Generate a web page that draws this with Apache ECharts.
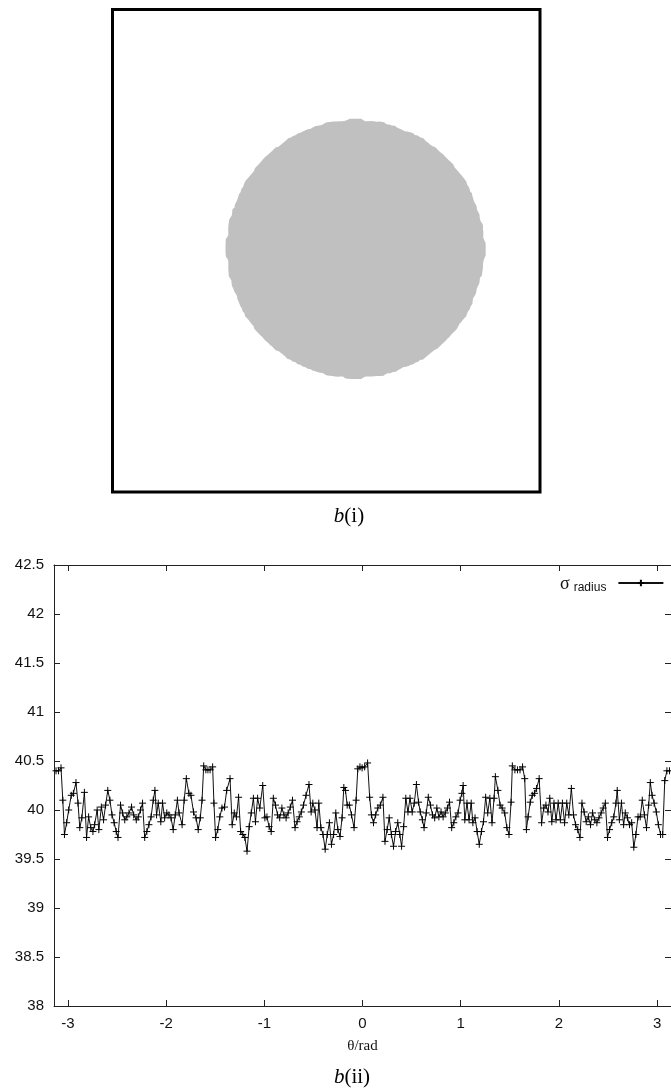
<!DOCTYPE html>
<html>
<head>
<meta charset="utf-8">
<script src="https://cdn.jsdelivr.net/npm/echarts@6/dist/echarts.min.js"></script>
<style>
  html, body { margin: 0; padding: 0; background: #fff; }
  #chart { width: 671px; height: 1089px; }
</style>
</head>
<body>
<div id="chart"></div>
<script>
// angle of each sample (rad)
const thetaRad = [
  -3.121, -3.096, -3.070, -3.052, -3.035, -3.013, -2.992, -2.966, -2.944, -2.918,
  -2.897, -2.879, -2.858, -2.832, -2.810, -2.789, -2.767, -2.745, -2.728, -2.702,
  -2.685, -2.659, -2.637, -2.616, -2.594, -2.572, -2.551, -2.529, -2.508, -2.490,
  -2.464, -2.443, -2.421, -2.400, -2.378, -2.352, -2.330, -2.304, -2.283, -2.261,
  -2.240, -2.218, -2.196, -2.175, -2.153, -2.131, -2.114, -2.097, -2.080, -2.054,
  -2.036, -2.015, -1.993, -1.971, -1.950, -1.928, -1.907, -1.885, -1.868, -1.837,
  -1.816, -1.794, -1.768, -1.747, -1.721, -1.695, -1.673, -1.652, -1.634, -1.617,
  -1.595, -1.574, -1.552, -1.526, -1.513, -1.496, -1.474, -1.453, -1.431, -1.405,
  -1.383, -1.349, -1.327, -1.306, -1.284, -1.262, -1.241, -1.219, -1.198, -1.176,
  -1.154, -1.133, -1.111, -1.090, -1.068, -1.046, -1.016, -0.994, -0.973, -0.951,
  -0.930, -0.908, -0.886, -0.865, -0.843, -0.821, -0.800, -0.778, -0.757, -0.735,
  -0.713, -0.687, -0.666, -0.644, -0.623, -0.601, -0.575, -0.545, -0.523, -0.506,
  -0.484, -0.463, -0.445, -0.424, -0.402, -0.380, -0.359, -0.337, -0.316, -0.294,
  -0.272, -0.251, -0.229, -0.208, -0.190, -0.173, -0.156, -0.134, -0.112, -0.086,
  -0.065, -0.048, -0.026, -0.004, 0.022, 0.052, 0.073, 0.091, 0.112, 0.134,
  0.156, 0.182, 0.208, 0.229, 0.251, 0.272, 0.294, 0.316, 0.337, 0.359,
  0.380, 0.398, 0.419, 0.441, 0.463, 0.484, 0.506, 0.527, 0.549, 0.571,
  0.588, 0.610, 0.627, 0.649, 0.670, 0.692, 0.713, 0.735, 0.757, 0.778,
  0.800, 0.821, 0.843, 0.865, 0.886, 0.908, 0.930, 0.951, 0.973, 0.994,
  1.012, 1.025, 1.042, 1.064, 1.085, 1.107, 1.124, 1.146, 1.167, 1.189,
  1.211, 1.232, 1.254, 1.275, 1.297, 1.319, 1.340, 1.353, 1.379, 1.401,
  1.422, 1.448, 1.470, 1.492, 1.513, 1.526, 1.552, 1.578, 1.604, 1.630,
  1.652, 1.669, 1.686, 1.708, 1.729, 1.751, 1.773, 1.799, 1.824, 1.846,
  1.868, 1.889, 1.907, 1.928, 1.950, 1.971, 1.993, 2.015, 2.036, 2.058,
  2.080, 2.101, 2.127, 2.149, 2.170, 2.192, 2.214, 2.235, 2.257, 2.278,
  2.300, 2.322, 2.343, 2.365, 2.387, 2.408, 2.430, 2.451, 2.473, 2.495,
  2.516, 2.538, 2.559, 2.581, 2.594, 2.616, 2.637, 2.659, 2.676, 2.698,
  2.719, 2.741, 2.763, 2.784, 2.806, 2.828, 2.849, 2.871, 2.892, 2.914,
  2.931, 2.949, 2.970, 2.992, 3.013, 3.035, 3.057, 3.078, 3.100, 3.126
]

// sigma_radius at each angle (pixels)
const sigmaRadius = [
  40.40, 40.40, 40.43, 40.10, 39.75, 39.87, 40.00, 40.15, 40.17, 40.28,
  40.07, 39.82, 39.92, 40.18, 39.72, 39.93, 39.82, 39.78, 39.85, 40.00,
  39.80, 40.03, 39.90, 40.05, 40.20, 40.10, 39.95, 39.87, 39.78, 39.72,
  40.05, 39.97, 39.90, 39.93, 39.97, 40.03, 39.95, 39.90, 39.93, 40.00,
  40.07, 39.72, 39.78, 39.85, 39.93, 40.10, 40.20, 39.95, 40.07, 39.88,
  40.07, 39.92, 39.97, 39.95, 39.92, 39.80, 39.95, 40.10, 39.97, 39.85,
  40.10, 40.32, 40.17, 40.15, 39.98, 39.92, 39.80, 39.92, 40.10, 40.45,
  40.41, 40.41, 40.41, 40.44, 40.07, 39.72, 39.80, 39.93, 40.02, 40.03,
  40.20, 40.32, 39.85, 39.97, 39.93, 40.13, 39.78, 39.75, 39.72, 39.58,
  39.83, 39.97, 40.12, 39.88, 40.12, 40.02, 40.25, 39.92, 39.93, 39.83,
  39.78, 40.12, 40.05, 39.95, 39.92, 40.02, 39.95, 39.92, 39.97, 40.03,
  40.10, 39.82, 39.88, 39.93, 39.98, 40.05, 40.15, 40.26, 39.98, 40.07,
  40.00, 39.82, 40.07, 39.82, 39.75, 39.60, 39.75, 39.87, 39.65, 39.75,
  39.97, 39.80, 39.73, 39.92, 40.23, 40.20, 40.05, 40.05, 39.95, 39.82,
  40.10, 40.42, 40.44, 40.43, 40.44, 40.48, 40.13, 39.95, 39.87, 39.95,
  40.02, 40.05, 40.13, 39.68, 39.80, 39.92, 39.75, 39.63, 39.78, 39.87,
  39.75, 39.63, 39.83, 40.12, 39.98, 40.12, 39.98, 40.07, 40.26, 40.08,
  39.98, 39.90, 39.82, 39.97, 40.13, 40.05, 39.95, 39.92, 40.02, 39.93,
  39.98, 39.93, 39.97, 40.02, 40.08, 39.82, 39.87, 39.93, 39.97, 40.10,
  40.17, 40.25, 39.90, 40.07, 39.90, 40.07, 39.87, 39.92, 39.78, 39.65,
  39.78, 39.88, 40.13, 39.97, 40.12, 39.87, 40.12, 40.34, 40.20, 40.05,
  40.02, 39.97, 39.82, 39.75, 40.08, 40.45, 40.41, 40.41, 40.41, 40.44,
  40.32, 39.80, 39.93, 40.08, 40.15, 40.17, 40.22, 40.32, 39.87, 40.02,
  40.05, 39.98, 40.12, 39.88, 40.07, 39.90, 40.07, 39.90, 40.07, 39.87,
  40.07, 39.95, 40.22, 39.95, 39.85, 39.80, 39.72, 40.07, 39.98, 39.88,
  39.93, 39.85, 39.97, 39.90, 39.87, 39.92, 39.97, 40.02, 40.07, 39.72,
  39.80, 39.87, 39.93, 40.07, 40.20, 39.90, 40.07, 39.85, 39.97, 39.92,
  39.85, 39.87, 39.62, 39.75, 39.93, 39.93, 40.10, 39.95, 39.82, 40.05,
  40.28, 40.15, 40.07, 39.98, 39.85, 39.75, 39.75, 40.30, 40.40, 40.40
]

// the image in b(i): size in pixels and where the disc centre sits
const imageSize = [132.8, 149.8]
const discCentre = [75.5, 74.3]

const yRange = [38, 42.5]
const yStep = 0.5

const seriesName = 'σ radius'
const ink = '#111'
const axisFont = 'Liberation Sans, Arial, sans-serif'
const serifFont = 'Liberation Serif, Times New Roman, serif'

const chart = echarts.init(document.getElementById('chart'))

const sideAxis = {
  gridIndex: 1,
  axisLine: { onZero: false, lineStyle: { color: '#222', width: 1 } },
  axisTick: { inside: true, length: 6, lineStyle: { color: '#222', width: 1 } },
  splitLine: { show: false },
}

chart.setOption({
  animation: false,
  backgroundColor: '#fff',
  grid: [
    {
      left: 112.5,
      top: 9.5,
      width: 427.5,
      height: 482.5,
      show: true,
      borderColor: '#000',
      borderWidth: 3,
      backgroundColor: 'transparent',
    },
    {
      left: 54,
      top: 565,
      width: 622,
      height: 441,
    },
  ],
  xAxis: [
    { gridIndex: 0, type: 'value', min: 0, max: imageSize[0], show: false },
    {
      ...sideAxis,
      type: 'value',
      position: 'bottom',
      min: -Math.PI,
      max: Math.PI,
      splitNumber: 6,
      axisLabel: {
        showMinLabel: false,
        showMaxLabel: false,
        color: ink,
        fontSize: 15,
        fontFamily: axisFont,
        margin: 10,
      },
      name: 'θ/rad',
      nameLocation: 'middle',
      nameGap: 33,
      nameTextStyle: { color: ink, fontSize: 15, fontFamily: serifFont },
    },
    {
      ...sideAxis,
      type: 'value',
      position: 'top',
      min: -Math.PI,
      max: Math.PI,
      splitNumber: 6,
      axisLabel: { show: false },
    },
  ],
  yAxis: [
    { gridIndex: 0, type: 'value', min: 0, max: imageSize[1], inverse: true, show: false },
    {
      ...sideAxis,
      type: 'value',
      position: 'left',
      min: yRange[0],
      max: yRange[1],
      interval: yStep,
      axisLabel: { color: ink, fontSize: 15, fontFamily: axisFont, margin: 10 },
    },
    {
      ...sideAxis,
      type: 'value',
      position: 'right',
      min: yRange[0],
      max: yRange[1],
      interval: yStep,
      axisLabel: { show: false },
    },
  ],
  legend: {
    data: [seriesName],
    left: 555,
    top: 570,
    align: 'right',
    itemWidth: 45,
    itemHeight: 8,
    formatter: () => '{s|σ}{r|radius}',
    textStyle: {
      color: ink,
      rich: {
        s: { fontSize: 18, lineHeight: 16, fontFamily: serifFont, verticalAlign: 'top' },
        r: { fontSize: 12, lineHeight: 12, fontFamily: axisFont, verticalAlign: 'top', padding: [7, 7, 0, 4] },
      },
    },
  },
  graphic: [
    {
      type: 'text',
      x: 349,
      y: 516,
      style: {
        text: '{b|b}(i)',
        fontSize: 21,
        fontFamily: serifFont,
        fill: '#000',
        align: 'center',
        verticalAlign: 'middle',
        rich: { b: { fontStyle: 'italic', fontSize: 21, fontFamily: serifFont } },
      },
    },
    {
      type: 'text',
      x: 352,
      y: 1077,
      style: {
        text: '{b|b}(ii)',
        fontSize: 21,
        fontFamily: serifFont,
        fill: '#000',
        align: 'center',
        verticalAlign: 'middle',
        rich: { b: { fontStyle: 'italic', fontSize: 21, fontFamily: serifFont } },
      },
    },
  ],
  series: [
    {
      // disc of b(i), outlined by the measured radius at each angle
      type: 'custom',
      xAxisIndex: 0,
      yAxisIndex: 0,
      silent: true,
      data: [discCentre],
      renderItem(params, api) {
        const cx = api.value(0)
        const cy = api.value(1)
        const points = thetaRad.map((t, i) =>
          api.coord([cx + sigmaRadius[i] * Math.cos(t), cy + sigmaRadius[i] * Math.sin(t)])
        )
        return { type: 'polygon', shape: { points }, style: { fill: '#c0c0c0' } }
      },
    },
    {
      name: seriesName,
      type: 'line',
      xAxisIndex: 1,
      yAxisIndex: 1,
      data: thetaRad.map((t, i) => [t, sigmaRadius[i]]),
      symbol: 'path://M5,0L5,10M0,5L10,5',
      symbolSize: 7,
      showAllSymbol: true,
      lineStyle: { color: ink, width: 1 },
      itemStyle: { color: '#000', borderColor: '#000', borderWidth: 1 },
    },
  ],
})
</script>
</body>
</html>
